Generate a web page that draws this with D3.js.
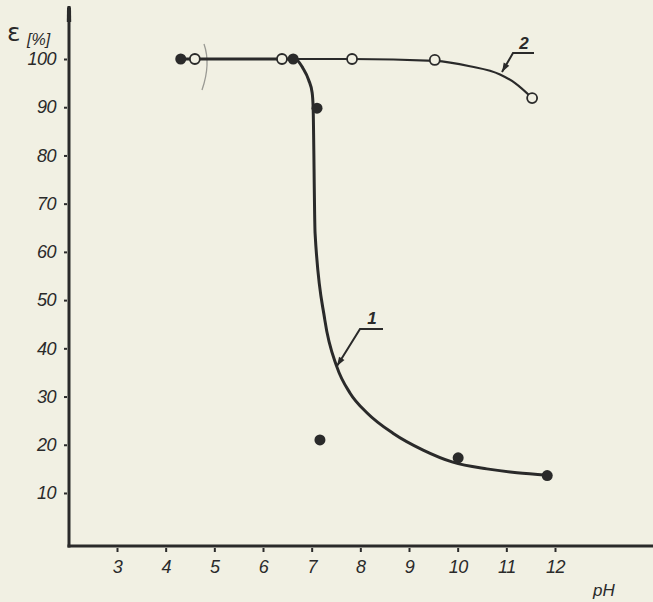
<!DOCTYPE html>
<html>
<head>
<meta charset="utf-8">
<script src="https://cdn.jsdelivr.net/npm/d3@7"></script>
<style>
  html, body { margin: 0; padding: 0; background: #f1f0e3; }
  svg { display: block; }
  .tick text { font-family: "Liberation Sans", Arial, sans-serif; font-style: italic; font-size: 18px; fill: #2a2a2a; }
</style>
</head>
<body>
<svg id="chart" width="653" height="602"></svg>
<script>
// pH values and extraction efficiency ε [%]
const xTicks = [3, 4, 5, 6, 7, 8, 9, 10, 11, 12];
const yTicks = [10, 20, 30, 40, 50, 60, 70, 80, 90, 100];

// series 1 – measured points (filled markers)
const series1pH = [4.31, 6.62, 7.11, 7.17, 10.01, 11.84];
const series1E  = [100, 100, 89.8, 21.0, 17.3, 13.6];

// series 2 – measured points (open markers)
const series2pH = [4.60, 6.39, 7.83, 9.53, 11.53];
const series2E  = [100, 100, 100, 99.8, 91.9];

// hand-drawn trend curve 1
const curve1pH = [4.31, 6.66, 6.82, 6.94, 7.01, 7.03, 7.07, 7.27, 7.52, 7.79, 8.14, 8.67, 9.29, 9.90, 10.60, 11.22, 11.84];
const curve1E  = [100, 100, 98.1, 95.6, 93.0, 90.0, 63.9, 45.9, 36.1, 30.7, 26.6, 22.4, 18.9, 16.4, 15.0, 14.2, 13.7];

// hand-drawn trend curve 2
const curve2pH = [4.60, 7.83, 9.53, 10.25, 10.87, 11.18, 11.53];
const curve2E  = [100, 100, 99.6, 98.5, 96.8, 95.0, 91.9];

const ink = "#2a2a2a";
const svg = d3.select("#chart");

const x = d3.scaleLinear().domain([3, 12]).range([117, 555]);
const y = d3.scaleLinear().domain([0, 100]).range([541.2, 59]);

const axisX = 69;   // position of the vertical axis
const axisY = 546;  // position of the horizontal axis

// axis lines
svg.append("line")
  .attr("x1", axisX).attr("x2", axisX).attr("y1", 6).attr("y2", axisY + 1.5)
  .attr("stroke", ink).attr("stroke-width", 3);
svg.append("path")
  .attr("d", `M${axisX - 2.2},22 L${axisX - 2},8 Q${axisX},4 ${axisX + 2},8 L${axisX + 2.2},22 Z`)
  .attr("fill", ink);
svg.append("line")
  .attr("x1", axisX - 1.5).attr("x2", 653).attr("y1", axisY).attr("y2", axisY)
  .attr("stroke", ink).attr("stroke-width", 3);

// y axis ticks and labels
const gy = svg.append("g")
  .attr("transform", `translate(${axisX - 1},0)`)
  .call(d3.axisLeft(y).tickValues(yTicks).tickSize(3).tickPadding(9));
gy.select(".domain").remove();
gy.selectAll(".tick line").attr("stroke", ink).attr("stroke-width", 2).attr("transform", "translate(-1,0)");
gy.selectAll(".tick text").attr("letter-spacing", "-0.5px");

// x axis ticks and labels
const gx = svg.append("g")
  .attr("transform", `translate(0,${axisY + 1})`)
  .call(d3.axisBottom(x).tickValues(xTicks).tickSize(4).tickPadding(9));
gx.select(".domain").remove();
gx.selectAll(".tick line").attr("stroke", ink).attr("stroke-width", 2).attr("transform", "translate(0,1)");
gx.selectAll(".tick text").attr("letter-spacing", "-0.5px");

// axis titles
svg.append("text")
  .attr("x", 7).attr("y", 41)
  .attr("font-family", "DejaVu Sans, sans-serif")
  .attr("font-size", 25).attr("fill", ink)
  .text("ε");
svg.append("text")
  .attr("x", 27).attr("y", 45)
  .attr("font-family", "Liberation Sans, Arial, sans-serif")
  .attr("font-style", "italic")
  .attr("font-size", 16).attr("fill", ink)
  .text("[%]");
svg.append("text")
  .attr("x", 593).attr("y", 596)
  .attr("font-family", "Liberation Sans, Arial, sans-serif")
  .attr("font-style", "italic")
  .attr("font-size", 17).attr("fill", ink)
  .text("pH");

// faint pencil bracket next to the first points
svg.append("path")
  .attr("d", "M204,44 Q211,64 202,90")
  .attr("fill", "none").attr("stroke", "#9a9a94").attr("stroke-width", 1.3);

// trend curves
const line = d3.line()
  .x(d => x(d[0])).y(d => y(d[1]))
  .curve(d3.curveMonotoneX);

svg.append("path")
  .datum(curve2pH.map((p, i) => [p, curve2E[i]]))
  .attr("d", line)
  .attr("fill", "none").attr("stroke", ink).attr("stroke-width", 2.2);

svg.append("path")
  .datum(curve1pH.map((p, i) => [p, curve1E[i]]))
  .attr("d", line)
  .attr("fill", "none").attr("stroke", ink).attr("stroke-width", 3);

// open markers (series 2)
svg.append("g").selectAll("circle")
  .data(series2pH.map((p, i) => [p, series2E[i]]))
  .join("circle")
  .attr("cx", d => x(d[0])).attr("cy", d => y(d[1]))
  .attr("r", 5)
  .attr("fill", "#f1f0e3").attr("stroke", ink).attr("stroke-width", 1.8);

// filled markers (series 1)
svg.append("g").selectAll("circle")
  .data(series1pH.map((p, i) => [p, series1E[i]]))
  .join("circle")
  .attr("cx", d => x(d[0])).attr("cy", d => y(d[1]))
  .attr("r", 5.5)
  .attr("fill", ink);

// curve labels with leader arrows
function leader(label, tx, ty, hx1, hx2, hy, ax, ay) {
  const g = svg.append("g");
  g.append("path")
    .attr("d", `M${hx2},${hy} L${hx1},${hy} L${ax},${ay}`)
    .attr("fill", "none").attr("stroke", ink).attr("stroke-width", 2);
  // arrowhead along the diagonal
  const ang = Math.atan2(ay - hy, ax - hx1);
  const L = 9, W = 3.2;
  const bx = ax - L * Math.cos(ang), by = ay - L * Math.sin(ang);
  const nx = -Math.sin(ang) * W, ny = Math.cos(ang) * W;
  g.append("path")
    .attr("d", `M${ax},${ay} L${bx + nx},${by + ny} L${bx - nx},${by - ny} Z`)
    .attr("fill", ink);
  g.append("text")
    .attr("x", tx).attr("y", ty)
    .attr("font-family", "Liberation Sans, Arial, sans-serif")
    .attr("font-style", "italic").attr("font-weight", "bold")
    .attr("font-size", 17).attr("fill", ink)
    .attr("text-anchor", "middle")
    .text(label);
}
leader("1", 372, 324, 360, 383, 329, 337, 366);
leader("2", 524, 49, 513, 534, 53, 502, 72);
</script>
</body>
</html>
